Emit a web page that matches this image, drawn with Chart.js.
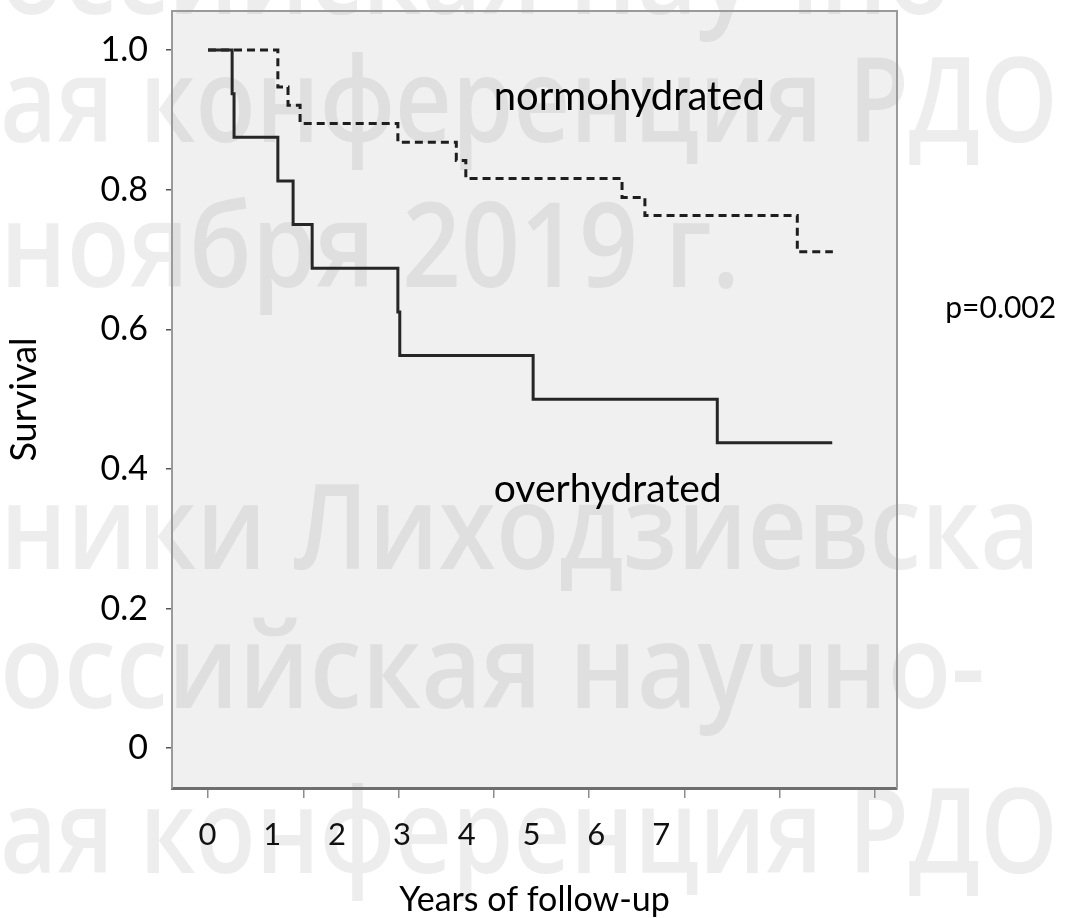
<!DOCTYPE html>
<html><head><meta charset="utf-8">
<script src="https://cdn.jsdelivr.net/npm/chart.js@4.4.1/dist/chart.umd.min.js"></script>
<style>html,body{margin:0;padding:0;background:#fff;} #wrap{position:relative;width:1070px;height:918px;}</style>
</head><body><div id="wrap"><canvas id="c"></canvas></div>
<script>
// ---- data ----
const SERIES_NAMES = ['overhydrated', 'normohydrated'];
const OVER_YEARS = [0, 0.38, 0.41, 1.10, 1.34, 1.64, 2.99, 3.02, 5.12, 8.02, 9.83];
const OVER_SURVIVAL = [1, 0.9375, 0.875, 0.8125, 0.75, 0.6875, 0.625, 0.5625, 0.5, 0.4375, 0.4375];
const NORMO_YEARS = [0, 1.10, 1.26, 1.45, 2.99, 3.91, 4.06, 6.52, 6.88, 9.28, 9.84];
const NORMO_SURVIVAL = [1, 0.947, 0.921, 0.895, 0.868, 0.842, 0.816, 0.789, 0.763, 0.711, 0.711];
const X_TICK_LABELS = ['0', '1', '2', '3', '4', '5', '6', '7'];
const X_TICK_MARKS = [0, 1.5, 3, 4.5, 6, 7.5, 9, 10.5];
const Y_TICKS = [0, 0.2, 0.4, 0.6, 0.8, 1.0];
const Y_TICK_LABELS = ['0', '0.2', '0.4', '0.6', '0.8', '1.0'];
const X_TITLE = 'Years of follow-up';
const Y_TITLE = 'Survival';
const P_VALUE = 'p=0.002';
const WATERMARK_LINES = ['оссийская научно-', 'ая конференция РДО', 'ноября 2019 г.', 'ники Лиходзиевска', 'оссийская научно-', 'ая конференция РДО', 'ноября 2019 г.'];

const toPoints = (xs, ys) => xs.map((x, i) => ({x: x, y: ys[i]}));

const FONT = 'Lato';

const decor = {
  id: 'decor',
  beforeDraw(chart) {
    const {ctx, chartArea: a} = chart;
    ctx.save();
    ctx.fillStyle = '#ffffff';
    ctx.fillRect(0, 0, chart.width, chart.height);
    ctx.fillStyle = '#f0f0f0';
    ctx.fillRect(a.left, a.top, a.right - a.left, a.bottom - a.top);
    // watermark
    const rows = [[0, 14, 985], [0, 142, 1058], [0, 287, 740], [0, 569, 1040], [0, 708, 985], [0, 873, 1058], [0, 1020, 740]];
    ctx.font = '600 118px "Open Sans"';
    ctx.fillStyle = 'rgba(0,0,0,0.07)';
    ctx.textBaseline = 'alphabetic';
    ctx.textAlign = 'left';
    WATERMARK_LINES.forEach((t, i) => {
      const [x, y, w] = rows[i];
      const m = ctx.measureText(t).width;
      ctx.save();
      ctx.translate(x, y);
      ctx.scale(w / m, 1);
      ctx.fillText(t, 0, 0);
      ctx.restore();
    });
    ctx.restore();
  },
  afterDraw(chart) {
    const {ctx, chartArea: a, scales} = chart;
    ctx.save();
    ctx.strokeStyle = '#9a9a9a';
    ctx.lineWidth = 2;
    ctx.beginPath();
    ctx.moveTo(a.left, a.top);
    ctx.lineTo(a.right, a.top);
    ctx.lineTo(a.right, a.bottom);
    ctx.stroke();
    const xs = scales.x, ys = scales.y;
    ctx.fillStyle = '#000';
    ctx.textBaseline = 'alphabetic';
    ctx.textAlign = 'left';
    ctx.font = '40px ' + FONT;
    ctx.fillText(SERIES_NAMES[1], xs.getPixelForValue(4.50), ys.getPixelForValue(0.914));
    ctx.font = '39px ' + FONT;
    ctx.fillText(SERIES_NAMES[0], xs.getPixelForValue(4.50), ys.getPixelForValue(0.352));
    ctx.font = '30px ' + FONT;
    ctx.fillText(P_VALUE, xs.getPixelForValue(11.61), ys.getPixelForValue(0.616));
    ctx.restore();
  }
};

const noPad = s => { s.paddingTop = 0; s.paddingBottom = 0; s.paddingLeft = 0; s.paddingRight = 0; };

new Chart(document.getElementById('c'), {
  type: 'line',
  data: {
    datasets: [
      {label: SERIES_NAMES[0], data: toPoints(OVER_YEARS, OVER_SURVIVAL), stepped: 'before',
       borderColor: '#262626', borderWidth: 3, pointRadius: 0, fill: false, xAxisID: 'x', yAxisID: 'y'},
      {label: SERIES_NAMES[1], data: toPoints(NORMO_YEARS, NORMO_SURVIVAL), stepped: 'before',
       borderColor: '#1e1e1e', borderWidth: 3, borderDash: [8, 5], pointRadius: 0, fill: false, xAxisID: 'x', yAxisID: 'y'}
    ]
  },
  options: {
    responsive: true,
    maintainAspectRatio: false,
    animation: false,
    devicePixelRatio: 1,
    layout: {padding: {left: 0, top: 11, right: 173, bottom: 0}},
    plugins: {legend: {display: false}, tooltip: {enabled: false}},
    scales: {
      x: {
        type: 'linear', position: 'bottom', min: -0.567, max: 10.85,
        afterBuildTicks: s => { s.ticks = X_TICK_MARKS.map(v => ({value: v})); },
        ticks: {display: false},
        grid: {drawOnChartArea: false, drawTicks: true, tickLength: 10, color: '#8c8c8c', lineWidth: 1.5},
        border: {display: true, color: '#6e6e6e', width: 3},
        afterFit: s => { s.height = 10; noPad(s); }
      },
      xl: {
        type: 'linear', position: 'bottom', min: -0.548, max: 10.64,
        afterBuildTicks: s => { s.ticks = X_TICK_LABELS.map((l, i) => ({value: i})); },
        ticks: {callback: (v, i) => X_TICK_LABELS[i], font: {family: FONT, size: 31}, color: '#111',
                padding: 18, maxRotation: 0, autoSkip: false},
        grid: {display: false, drawTicks: false},
        border: {display: false},
        title: {display: true, text: X_TITLE, font: {family: FONT, size: 34}, color: '#000', padding: {top: 0, bottom: -2}},
        afterFit: s => { s.height = 120; noPad(s); }
      },
      y: {
        type: 'linear', position: 'left', min: -0.057, max: 1.056,
        afterBuildTicks: s => { s.ticks = Y_TICKS.map(v => ({value: v})); },
        ticks: {callback: (v, i) => Y_TICK_LABELS[i], font: {family: FONT, size: 34}, color: '#000', padding: 18},
        grid: {drawOnChartArea: false, drawTicks: true, tickLength: 6, color: '#555', lineWidth: 1.5},
        border: {display: true, color: '#9a9a9a', width: 2},
        title: {display: true, text: Y_TITLE, font: {family: FONT, size: 36}, color: '#000', padding: {top: 3, bottom: 0}},
        afterFit: s => { s.width = 172; noPad(s); }
      }
    }
  },
  plugins: [decor]
});
</script>
</body></html>
